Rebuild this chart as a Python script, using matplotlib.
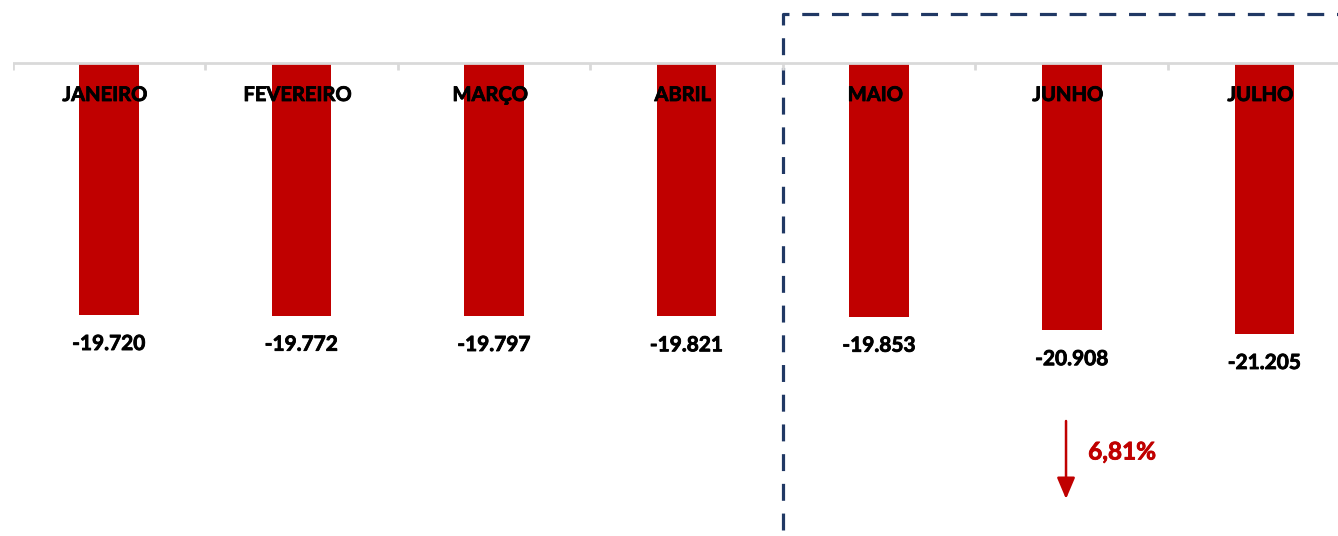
import numpy as np
import matplotlib.pyplot as plt
import matplotlib.patheffects as pe

meses = ['JANEIRO', 'FEVEREIRO', 'MARÇO', 'ABRIL', 'MAIO', 'JUNHO', 'JULHO']
valores = [-19720, -19772, -19797, -19821, -19853, -20908, -21205]
rotulos = ['-19.720', '-19.772', '-19.797', '-19.821', '-19.853', '-20.908', '-21.205']
variacao = '6,81%'

vermelho = '#C00000'
azul = '#203864'
cinza = '#D9D9D9'

plt.rcParams['font.family'] = ['Lato', 'DejaVu Sans']

W, H = 1338, 536
fig = plt.figure(figsize=(W / 100, H / 100), dpi=100)

# axes: category width ~192.6 px, zero line at y=63 px, 0.01278 px per unit
cat_w = 192.6
x0 = 12.5
ax = fig.add_axes([x0 / W, 0, 7 * cat_w / W, 1])
escala = 0.01278
ax.set_xlim(-0.5, 6.5)
ax.set_ylim(-(H - 63) / escala, 63 / escala)
ax.axis('off')

x = np.arange(len(meses))
ax.bar(x, valores, width=0.31, color=vermelho, zorder=2)

# eixo horizontal com marcas
ax.axhline(0, color=cinza, lw=2, zorder=3)
px = 1 / escala
ax.vlines(np.arange(-0.5, 7, 1), -7 * px, 0, color=cinza, lw=2, zorder=3)

def negrito(cor):
    return [pe.withStroke(linewidth=0.6, foreground=cor)]

for xi, m in zip(x, meses):
    ax.text(xi - 0.02, -32 * px, m, ha='center', va='center',
            fontsize=14.5, fontweight='bold', color='black', zorder=4,
            path_effects=negrito('black'))

for xi, v, r in zip(x, valores, rotulos):
    ax.annotate(r, (xi, v), xytext=(0, -29), textcoords='offset pixels',
                ha='center', va='center', fontsize=15, fontweight='bold',
                color='black', path_effects=negrito('black'))

# destaque maio-julho
ax.plot([3.5, 3.5, 7.2], [-(530 - 63) * px, (63 - 14) * px, (63 - 14) * px],
        color=azul, lw=2.3, dashes=(5.3, 4), solid_capstyle='butt',
        dash_capstyle='butt', clip_on=False)

# seta de variação
ax.annotate('', xy=(4.97, -(499 - 63) * px), xytext=(4.97, -(421 - 63) * px),
            arrowprops=dict(arrowstyle='-|>,head_width=0.55,head_length=1.3',
                            color=vermelho, lw=1.8, shrinkA=0, shrinkB=0))
ax.text(5.085, -(452 - 63) * px, variacao, ha='left', va='center',
        fontsize=17.5, fontweight='bold', color=vermelho,
        path_effects=negrito(vermelho))

fig.savefig('out.png', dpi=100)
